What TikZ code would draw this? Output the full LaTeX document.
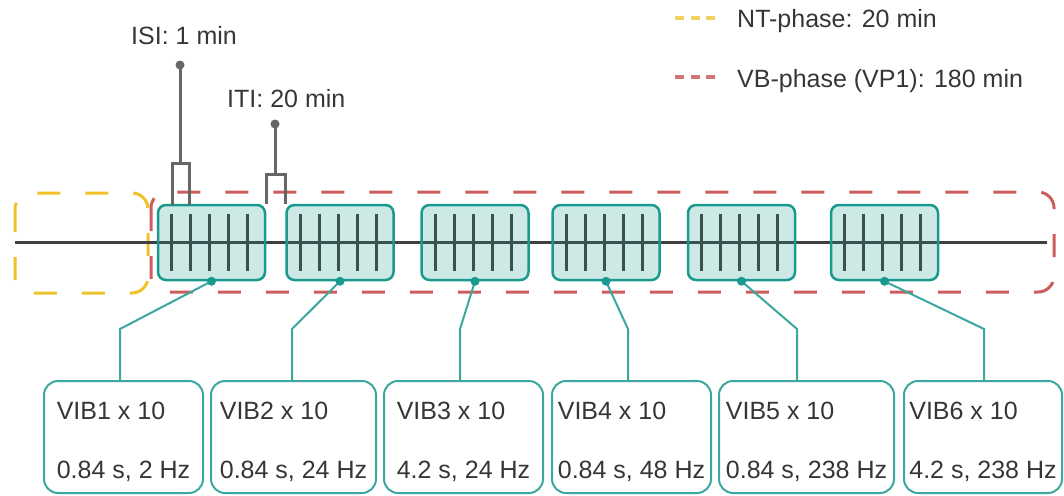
\documentclass[tikz,border=0pt]{standalone}
\usepackage{fontspec}
\setmainfont{Liberation Sans}
\usepackage{tikz}
\usetikzlibrary{calc}
\definecolor{ntyellow}{HTML}{EFC22A}
\definecolor{vbred}{HTML}{CD5C5C}
\definecolor{stimteal}{HTML}{1A9A8F}
\definecolor{linkteal}{HTML}{3AA89F}
\definecolor{tickgray}{HTML}{3A524E}
\definecolor{pingray}{HTML}{666666}
\definecolor{txtgray}{HTML}{363636}
\newcommand{\vibtext}[2]{\rule{0pt}{27pt}#1\\[29pt]#2}

\begin{document}
\begin{tikzpicture}[x=1pt,y=-1pt,
		font=\fontsize{25}{30}\selectfont,
		note/.style={text=txtgray, inner sep=0pt},
		ntbox/.style={draw=ntyellow, line width=3pt, dash pattern=on 23pt off 25pt, rounded corners=16pt},
		vbbox/.style={draw=vbred, line width=3pt, dash pattern=on 23pt off 25pt, rounded corners=16pt},
		legdash/.style={line width=4pt, dash pattern=on 9pt off 6.5pt},
		stim/.style={draw=stimteal, line width=2.5pt, fill=stimteal, fill opacity=0.22, rounded corners=8pt, minimum width=107pt, minimum height=75pt, inner sep=0pt},
		vib/.style={draw=linkteal, line width=2pt, fill=white, rounded corners=14pt, minimum height=112pt, inner sep=0pt, align=left, text=txtgray},
		link/.style={draw=linkteal, line width=2pt},
		pin/.style={draw=pingray, line width=3pt},
		tick/.style={draw=tickgray, line width=3pt}]
	%\draw[help lines,step=50] (0,0) grid (1064,495);
	\useasboundingbox (0,0) rectangle (1064,495);

	% phases
	\draw[ntbox] (15,193) rectangle (148,293);
	\draw[vbbox] (151,192) rectangle (1054,292);

	% time line
	\coordinate (t0) at (15,242);
	\coordinate (t1) at (1047,242);
	\draw[line width=3pt, draw=black!75] (t0) -- (t1);

	% stimulation blocks
	\node[stim] (s1) at (211.5,242.5) {};
	\node[stim] (s2) at (340,242.5) {};
	\node[stim] (s3) at (475,242.5) {};
	\node[stim] (s4) at (606,242.5) {};
	\node[stim] (s5) at (741.5,242.5) {};
	\node[stim] (s6) at (884.5,242.5) {};
	\foreach \i in {1,...,6}
		\foreach \dx in {-40,-21,-2,17,36}
			\draw[tick] ([xshift=\dx pt]s\i.center) ++(0,-28.5) -- ++(0,57);

	% ISI and ITI
	\node[note, anchor=base west] (isi) at (131,45) {ISI: 1 min};
	\coordinate (isipin) at (180,65);
	\coordinate (isil) at (172,205);
	\coordinate (isir) at (189,205);
	\draw[pin] (isipin) -- (180,163);
	\draw[pin] (isil) |- (180,163) -| (isir);
	\fill[pingray] (isipin) circle (4.5);

	\node[note, anchor=base west] (iti) at (227,107) {ITI: 20 min};
	\coordinate (itipin) at (275,124);
	\coordinate (itil) at (s1.north east);
	\coordinate (itir) at (s2.north west);
	\draw[pin] (itipin) -- (275,174);
	\draw[pin] (itil) |- (275,174) -| (itir);
	\fill[pingray] (itipin) circle (4.5);

	% legend
	\coordinate (nt0) at (675,18);
	\coordinate (nt1) at (715,18);
	\draw[legdash, draw=ntyellow!75] (nt0) -- (nt1);
	\node[note, anchor=base west] (ntkey) at (737,28) {NT-phase: 20 min};
	\coordinate (vb0) at (675,77);
	\coordinate (vb1) at (715,77);
	\draw[legdash, draw=vbred!85] (vb0) -- (vb1);
	\node[note, anchor=base west] (vbkey) at (737,87) {VB-phase (VP1): 180 min};

	% stimulus boxes
	\node[vib, minimum width=159pt] (v1) at (123.5,437) {\vibtext{VIB1 x 10}{0.84 s, 2 Hz}};
	\node[vib, minimum width=165pt] (v2) at (293.5,437) {\vibtext{VIB2 x 10}{0.84 s, 24 Hz}};
	\node[vib, minimum width=159pt] (v3) at (463.5,437) {\vibtext{VIB3 x 10}{4.2 s, 24 Hz}};
	\node[vib, minimum width=159pt] (v4) at (631.5,437) {\vibtext{VIB4 x 10}{0.84 s, 48 Hz}};
	\node[vib, minimum width=175pt] (v5) at (806.5,437) {\vibtext{VIB5 x 10}{0.84 s, 238 Hz}};
	\node[vib, minimum width=158pt] (v6) at (983,437) {\vibtext{VIB6 x 10}{4.2 s, 238 Hz}};

	\coordinate (e1) at (120,329);
	\coordinate (e2) at (292,329);
	\coordinate (e3) at (460,329);
	\coordinate (e4) at (628,329);
	\coordinate (e5) at (797,329);
	\coordinate (e6) at (984,329);
	\foreach \i in {1,...,6}{
		\draw[link] (s\i.south) -- (e\i) -- (e\i |- v\i.north);
		\fill[stimteal] (s\i.south) circle (4.5);
	}
\end{tikzpicture}
\end{document}
